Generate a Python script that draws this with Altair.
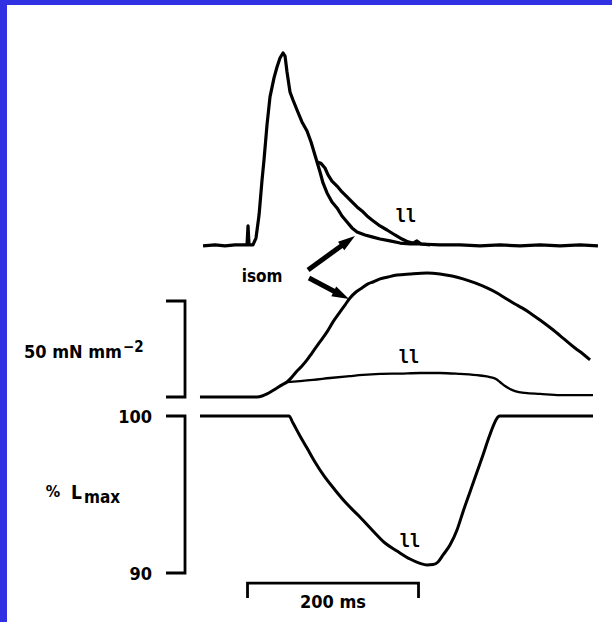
import altair as alt
import pandas as pd

# ---------------------------------------------------------------------------
# Recorded traces (time in ms after the stimulus)
# ---------------------------------------------------------------------------

# Light signal, normalised to its peak (0 = resting level)
ca_rise_t = [-52.0, -38.0, -26.3, -14.6, -0.6, 0.6, 1.8, 6.4, 9.9, 13.5, 17.0, 19.3, 22.8,
             26.3, 31.0, 34.5, 38.0, 41.5, 43.9, 46.2, 49.7, 53.2, 57.9, 63.7, 69.6,
             74.3, 77.8, 81.3]
ca_rise_v = [-0.005, 0.0, -0.005, 0.0, 0.0, 0.099, 0.0, 0.0, 0.036, 0.156, 0.339, 0.443,
             0.625, 0.771, 0.870, 0.927, 0.974, 1.0, 0.984, 0.901, 0.797, 0.755, 0.703,
             0.641, 0.594, 0.536, 0.484, 0.432]
ca_isom_t = [84.8, 88.3, 93.0, 98.8, 104.7, 110.5, 116.4, 122.2, 128.1, 137.4, 145.6, 155.0,
             166.7, 178.4, 190.1, 201.8, 225.1, 248.5, 271.9, 295.3, 318.7, 342.1, 365.5,
             388.9, 409.9]
ca_isom_v = [0.380, 0.323, 0.271, 0.224, 0.193, 0.151, 0.120, 0.089, 0.068, 0.052, 0.042,
             0.031, 0.021, 0.010, 0.005, 0.005, 0.0, 0.0, -0.005, 0.0, -0.005, 0.0, -0.005,
             0.0, -0.005]
ca_ll_t = [85.9, 90.6, 94.2, 98.8, 104.7, 110.5, 116.4, 122.2, 128.1, 133.9, 139.8, 145.6,
           155.0, 163.2, 172.5, 180.7, 187.7, 193.6, 198.2, 202.9, 213.5]
ca_ll_v = [0.425, 0.401, 0.365, 0.333, 0.307, 0.276, 0.250, 0.224, 0.198, 0.177, 0.151,
           0.130, 0.099, 0.078, 0.052, 0.031, 0.016, 0.010, 0.021, 0.005, 0.0]

# Stress (mN mm^-2)
stress_rise_t = [-55.6, 11.1, 17.0, 22.8, 28.7, 34.5, 40.4, 46.2]
stress_rise_v = [0.0, 0.0, 0.5, 1.6, 3.1, 4.7, 6.3, 7.8]
stress_isom_t = [52.0, 57.9, 63.7, 69.6, 75.4, 81.3, 87.1, 93.0, 100.0, 108.2, 114.0, 119.9,
                 126.9, 133.9, 140.9, 146.8, 155.0, 164.3, 174.9, 190.1, 210.0, 225.1,
                 239.2, 252.0, 266.1, 280.1, 291.8, 301.2, 312.9, 321.1, 330.4, 342.1,
                 356.1, 369.0, 383.0, 392.4, 400.6]
stress_isom_v = [10.4, 13.5, 16.1, 19.3, 22.9, 26.6, 30.2, 33.9, 39.1, 44.3, 47.9, 51.6,
                 54.7, 56.8, 58.9, 59.9, 61.5, 62.5, 63.5, 64.1, 64.6, 64.1, 63.0, 61.5,
                 59.4, 56.8, 54.2, 51.6, 48.4, 46.4, 43.8, 40.1, 35.4, 30.7, 25.5, 22.4,
                 19.3]
stress_ll_t = [61.4, 76.6, 96.5, 119.9, 135.1, 155.0, 178.4, 201.8, 225.1, 248.5, 271.9,
               283.6, 290.6, 295.3, 301.2, 307.0, 312.9, 324.6, 342.1, 365.5, 388.9, 404.1]
stress_ll_v = [8.3, 8.9, 9.9, 10.9, 11.5, 12.0, 12.2, 12.5, 12.5, 12.0, 11.2, 10.4, 9.4,
               7.8, 5.7, 4.2, 3.1, 2.1, 1.6, 1.0, 1.0, 1.0]

# Muscle length (% Lmax) during the lengthening-loaded contraction
length_t = [-55.6, 48.5, 53.2, 61.4, 69.6, 78.9, 89.5, 102.3, 116.4, 130.4, 146.8, 160.8,
            174.9, 190.1, 201.8, 210.0, 217.0, 222.8, 228.7, 236.8, 245.0, 252.0, 260.2,
            268.4, 275.4, 282.5, 288.3, 293.0, 295.3, 404.1]
length_v = [100.0, 100.0, 99.55, 98.73, 97.96, 97.07, 96.18, 95.29, 94.39, 93.63, 92.68,
            91.91, 91.40, 90.89, 90.61, 90.51, 90.54, 90.70, 91.15, 91.78, 92.74, 93.89,
            95.16, 96.43, 97.52, 98.66, 99.49, 99.94, 100.0, 100.0]

# Calibration bars
stress_bar = [0.0, 50.0]          # mN mm^-2
length_bar = [90.0, 100.0]        # % Lmax
time_bar = [0.0, 200.0]           # ms
bar_t = -73.1                     # time position of the vertical scale bars
bar_tick_t = -95.3

# ---------------------------------------------------------------------------
# Scales: one shared time axis, one vertical scale per recording
# ---------------------------------------------------------------------------
W, H = 605, 617
X_DOM = [-281.3, 426.3]
CA_DOM = [-1.964, 1.25]
STRESS_DOM = [-117.19, 204.17]
LEN_DOM = [86.879, 126.18]

FONT = "DejaVu Sans Condensed"
HOOK_FONT = "DejaVu Sans Mono"
X = alt.X("t:Q", scale=alt.Scale(domain=X_DOM), axis=None)


def Y(domain):
    return alt.Y("y:Q", scale=alt.Scale(domain=domain), axis=None)


def frame(ts, ys):
    return pd.DataFrame({"t": ts, "y": ys, "i": range(len(ts))})


def trace(ts, ys, domain, width, interp="linear"):
    return alt.Chart(frame(ts, ys)).mark_line(
        color="black", strokeWidth=width, interpolate=interp, strokeJoin="round"
    ).encode(x=X, y=Y(domain), order="i:Q")


def path(ts, ys, domain, width=2.8):
    return alt.Chart(frame(ts, ys)).mark_line(
        color="black", strokeWidth=width, strokeJoin="miter"
    ).encode(x=X, y=Y(domain), order="i:Q")


def label(text, t, y, domain, size, align="center", weight="bold", font=FONT):
    df = pd.DataFrame({"t": [t], "y": [y], "label": [text]})
    return alt.Chart(df).mark_text(
        font=font, fontSize=size, fontWeight=weight, align=align,
        baseline="alphabetic", color="black"
    ).encode(x=X, y=Y(domain), text="label:N")


def arrow(t0, y0, t1, y1, domain, angle):
    # shaft stops short of the tip so the head stays pointed
    ts = t0 + 0.72 * (t1 - t0)
    ys = y0 + 0.72 * (y1 - y0)
    shaft = path([t0, ts], [y0, ys], domain, width=5)
    head = alt.Chart(pd.DataFrame({"t": [t1], "y": [y1]})).mark_point(
        shape="M0,0L0.6,1.9L-0.6,1.9Z", size=324, filled=True, color="black",
        opacity=1, strokeWidth=0.5
    ).encode(x=X, y=Y(domain), angle=alt.value(angle))
    return [shaft, head]


layers = [
    # light signal: isometric and lengthening-loaded sweeps
    trace(ca_rise_t + ca_isom_t, ca_rise_v + ca_isom_v, CA_DOM, 3.2),
    trace(ca_rise_t[-1:] + ca_ll_t, ca_rise_v[-1:] + ca_ll_v, CA_DOM, 3.2),
    # stress
    trace(stress_rise_t + stress_isom_t, stress_rise_v + stress_isom_v, STRESS_DOM, 3.0,
          "monotone"),
    trace(stress_rise_t[-1:] + stress_ll_t, stress_rise_v[-1:] + stress_ll_v, STRESS_DOM,
          2.3, "monotone"),
    # length
    trace(length_t, length_v, LEN_DOM, 3.0, "monotone"),
    # calibration brackets
    path([bar_tick_t, bar_t, bar_t, bar_tick_t],
         [stress_bar[1], stress_bar[1], stress_bar[0], stress_bar[0]], STRESS_DOM),
    path([bar_tick_t, bar_t, bar_t, bar_tick_t],
         [length_bar[1], length_bar[1], length_bar[0], length_bar[0]], LEN_DOM),
    path([time_bar[0], time_bar[0], time_bar[1], time_bar[1]],
         [88.41, 89.36, 89.36, 88.41], LEN_DOM),
    # text
    label("50 mN mm", -146.8, 20.3, STRESS_DOM, 18, align="right"),
    label("\u22122", -145.6, 23.4, STRESS_DOM, 15, align="left"),
    label("100", -111.7, 99.55, LEN_DOM, 18, align="right"),
    label("90", -111.7, 89.55, LEN_DOM, 18, align="right"),
    label("%", -227.5, 94.84, LEN_DOM, 16, align="center"),
    label("L", -206.5, 94.71, LEN_DOM, 19, align="left"),
    label("max", -191.2, 94.46, LEN_DOM, 17, align="left"),
    label("200 ms", 100.0, 87.77, LEN_DOM, 18),
    label("isom", 17.0, -0.193, CA_DOM, 17),
    label("ll", 185.4, 0.120, CA_DOM, 17, font=HOOK_FONT),
    label("ll", 188.9, 17.7, STRESS_DOM, 17, font=HOOK_FONT),
    label("ll", 190.1, 91.66, LEN_DOM, 17, font=HOOK_FONT),
]
layers += arrow(70.8, -0.130, 125.7, 0.047, CA_DOM, 54)
layers += arrow(71.9, 62.0, 118.7, 51.0, STRESS_DOM, 117)

chart = alt.layer(*layers).resolve_scale(y="independent").properties(
    width=W, height=H,
    autosize=alt.AutoSizeParams(type="none"),
    padding={"left": 7, "top": 5, "right": 0, "bottom": 0},
    background="#3131E4",
).configure_view(fill="white", stroke=None)

chart.save("out.html", embed_options={"renderer": "svg", "actions": False})
